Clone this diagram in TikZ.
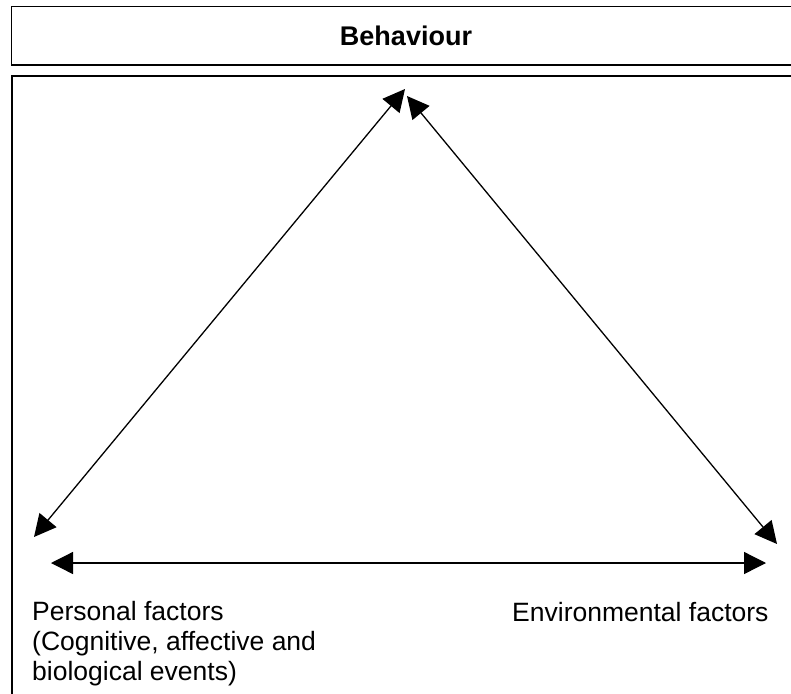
\documentclass[tikz,border=0pt]{standalone}
\usepackage{fontspec}
\setmainfont{Liberation Sans}
\usetikzlibrary{arrows.meta}
\begin{document}
\begin{tikzpicture}[x=1pt, y=-1pt,
  frame/.style={draw=black, line width=1.6pt},
  link/.style={draw=black, line width=1.3pt,
    {Triangle[length=22pt,width=22pt]}-{Triangle[length=22pt,width=22pt]}},
  label/.style={inner sep=0pt, align=left, font=\fontsize{26.5}{30}\selectfont},
  title/.style={inner sep=0pt, font=\bfseries\fontsize{27}{30}\selectfont}]
  % visible area
  \clip (0,0) rectangle (791,693);
  \fill[white] (0,0) rectangle (791,693);
  % heading strip and main frame (running off the right and bottom edges)
  \draw[frame] (11.5,6.5) rectangle (820,65);
  \draw[frame] (12,76) rectangle (820,720);
  \node[title] (behaviour) at (406,36) {Behaviour};
  % arrow tips of the triad
  \coordinate (topL) at (405,89);
  \coordinate (topR) at (407,96);
  \coordinate (perD) at (34,537);
  \coordinate (envD) at (777,544);
  \coordinate (perH) at (51,563);
  \coordinate (envH) at (766,563);
  \draw[link] (perD) -- (topL);
  \draw[link] (topR) -- (envD);
  \draw[link] (perH) -- (envH);
  % factor labels
  \node[label, anchor=north west] (personal) at (32,601.5)
    {Personal factors\\(Cognitive, affective and\\biological events)};
  \node[label, anchor=base west] (environmental) at (512,621)
    {Environmental factors};
\end{tikzpicture}
\end{document}
